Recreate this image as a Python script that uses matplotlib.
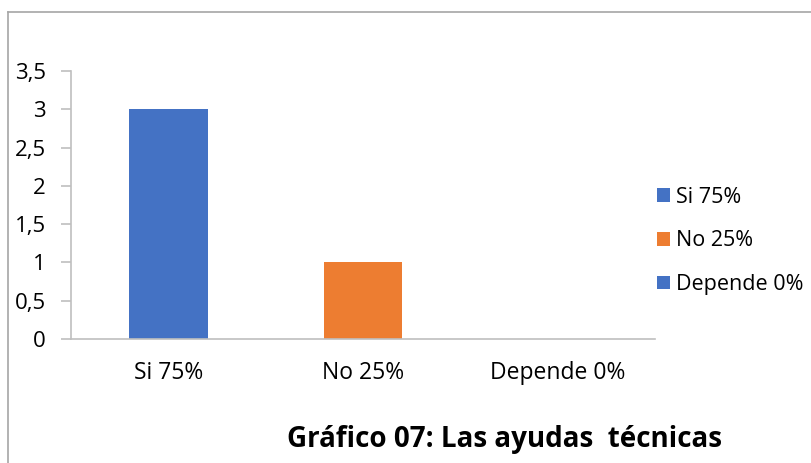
import matplotlib
matplotlib.use('Agg')
import matplotlib.pyplot as plt
from matplotlib.patches import Patch
from matplotlib.lines import Line2D

categories = ['Si 75%', 'No 25%', 'Depende 0%']
values = [3, 1, 0]
colors = ['#4472C4', '#ED7D31', '#4472C4']
yticks = [0, 0.5, 1, 1.5, 2, 2.5, 3, 3.5]
ytick_labels = ['0', '0,5', '1', '1,5', '2', '2,5', '3', '3,5']
title = 'Gráfico 07: Las ayudas  técnicas'

plt.rcParams['font.family'] = ['Open Sans', 'DejaVu Sans']

W, H = 811, 463
fig = plt.figure(figsize=(W / 100, H / 100), dpi=100)

# outer frame (only left and top edges visible)
grey = '#A6A6A6'
fig.add_artist(Line2D([8 / W, 8 / W], [0, 1 - 11.5 / H], color=grey, lw=1.2))
fig.add_artist(Line2D([8 / W, 1], [1 - 11.5 / H, 1 - 11.5 / H], color=grey, lw=1.2))

ax = fig.add_axes([71 / W, 1 - 339 / H, 584 / W, 268 / H])
x = range(len(categories))
ax.bar(x, values, width=0.405, color=colors)
ax.set_xlim(-0.5, 2.5)
ax.set_ylim(0, 3.5)
ax.set_yticks(yticks)
ax.set_yticklabels(ytick_labels)
ax.set_xticks(list(x))
ax.set_xticklabels(categories)

for s in ['top', 'right']:
    ax.spines[s].set_visible(False)
for s in ['left', 'bottom']:
    ax.spines[s].set_color('#BFBFBF')
    ax.spines[s].set_linewidth(1.2)
ax.tick_params(axis='y', direction='out', length=7, width=1.2, color='#BFBFBF',
               labelsize=16, pad=11, labelcolor='black')
ax.tick_params(axis='x', length=0, labelsize=16.5, pad=16, labelcolor='black')

handles = [Patch(facecolor=c, edgecolor='none') for c in colors]
fig.legend(handles, categories, loc='center left', bbox_to_anchor=(648 / W, 1 - 241 / H),
           frameon=False, fontsize=15.5, handlelength=0.6, handleheight=0.6,
           handletextpad=0.3, labelspacing=1.05, borderaxespad=0)

fig.text(505 / W, 1 - 440 / H, title, ha='center', va='center',
         fontsize=20, fontweight='bold')

fig.savefig('out.png', dpi=100)
